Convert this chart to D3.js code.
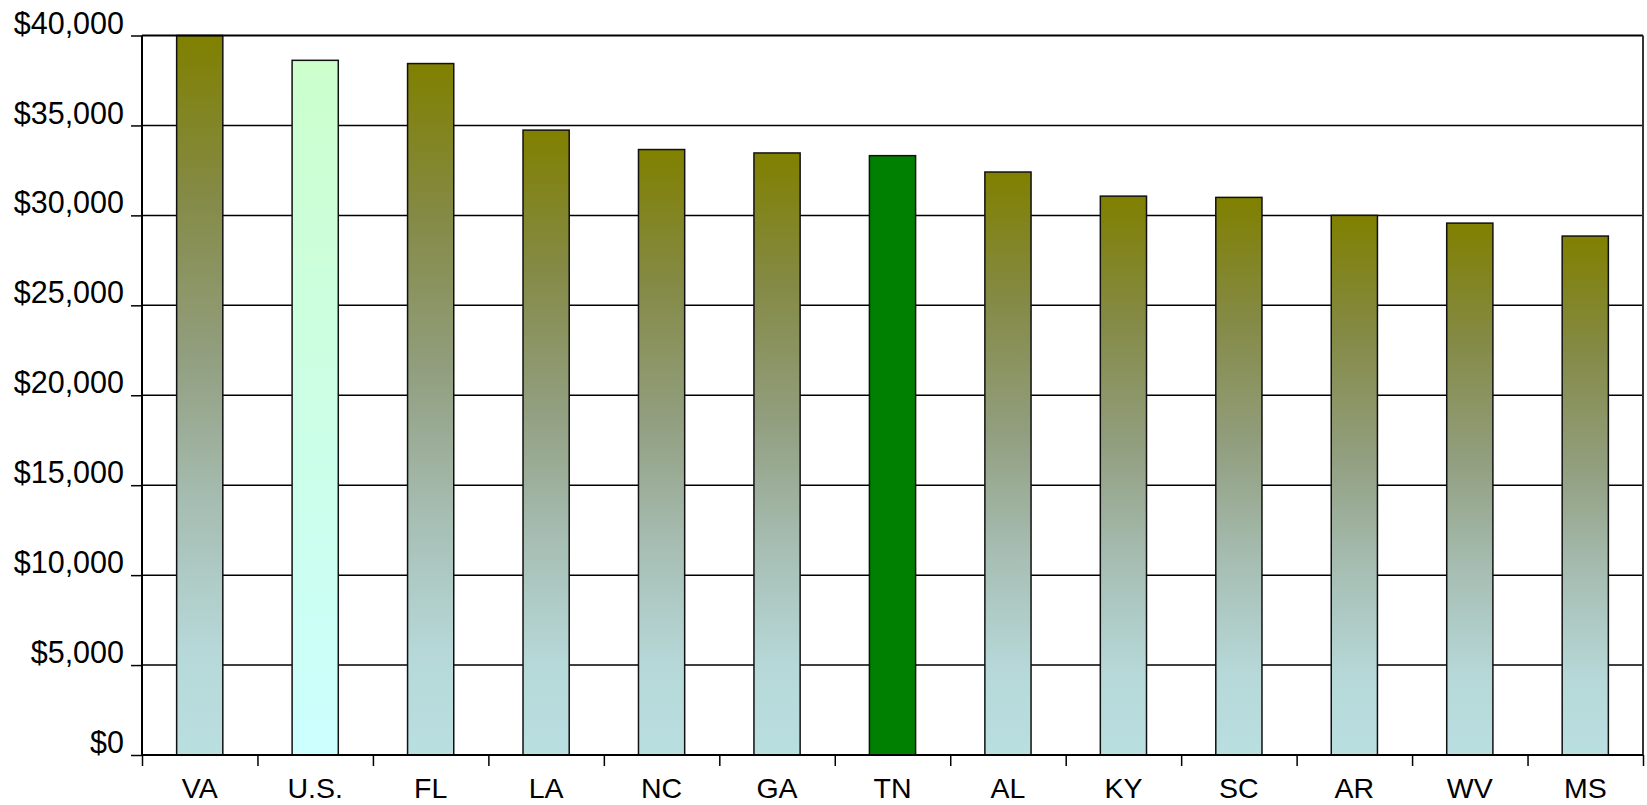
<!DOCTYPE html>
<html>
<head>
<meta charset="utf-8">
<script src="https://cdn.jsdelivr.net/npm/d3@7"></script>
<style>
  body { margin: 0; background: #fff; }
  svg { display: block; font-family: "Liberation Sans", Arial, sans-serif; }
</style>
</head>
<body>
<svg width="1647" height="805"></svg>
<script>
const width = 1647;
const height = 805;

const states = ["VA", "U.S.", "FL", "LA", "NC", "GA", "TN", "AL", "KY", "SC", "AR", "WV", "MS"];
const incomes = [40000, 38620, 38440, 34740, 33660, 33470, 33320, 32410, 31070, 31000, 30000, 29570, 28850];
const barKinds = ["state", "us", "state", "state", "state", "state", "tn", "state", "state", "state", "state", "state", "state"];
const yTicks = [0, 5000, 10000, 15000, 20000, 25000, 30000, 35000, 40000];

const margin = {top: 35.5, right: 4, bottom: 50, left: 142},
    plotWidth = width - margin.left - margin.right,
    plotHeight = height - margin.top - margin.bottom;

const svg = d3.select("svg");

// per-bar vertical gradients
const defs = svg.append("defs");
const gradients = {
    state: [["0%", "#808000"], ["22%", "#848a45"], ["45%", "#929f80"], ["65%", "#a6bdb2"], ["85%", "#b6d8d8"], ["100%", "#badfe1"]],
    us: [["0%", "#ccffcc"], ["100%", "#ccffff"]]
};
Object.entries(gradients).forEach(([id, stops]) => {
    const g = defs.append("linearGradient")
        .attr("id", "grad-" + id)
        .attr("x1", 0).attr("y1", 0)
        .attr("x2", 0).attr("y2", 1);
    stops.forEach(s => g.append("stop").attr("offset", s[0]).attr("stop-color", s[1]));
});
const fillFor = kind => kind === "tn" ? "#008000" : `url(#grad-${kind})`;

const chart = svg.append("g")
    .attr("transform", `translate(${margin.left},${margin.top})`);

const x = d3.scaleBand()
    .domain(states)
    .range([0, plotWidth])
    .padding(0);

const y = d3.scaleLinear()
    .domain([0, 40000])
    .range([plotHeight, 0]);

// gridlines
chart.append("g")
    .selectAll("line")
    .data(yTicks.filter(d => d > 0 && d < 40000))
    .join("line")
    .attr("x1", 0)
    .attr("x2", plotWidth)
    .attr("y1", d => y(d))
    .attr("y2", d => y(d))
    .attr("stroke", "#000")
    .attr("stroke-width", 1.5);

// bars
chart.append("g")
    .selectAll("rect")
    .data(states.map((s, i) => ({state: s, value: incomes[i], kind: barKinds[i]})))
    .join("rect")
    .attr("x", d => x(d.state) + x.bandwidth() * 0.3)
    .attr("y", d => y(d.value))
    .attr("width", x.bandwidth() * 0.4)
    .attr("height", d => plotHeight - y(d.value))
    .attr("fill", d => fillFor(d.kind))
    .attr("stroke", "#111")
    .attr("stroke-width", 1.5);

// top and right frame
chart.append("line")
    .attr("x1", 0).attr("x2", plotWidth)
    .attr("y1", 0).attr("y2", 0)
    .attr("stroke", "#000")
    .attr("stroke-width", 2);
chart.append("line")
    .attr("x1", plotWidth).attr("x2", plotWidth)
    .attr("y1", 0).attr("y2", plotHeight)
    .attr("stroke", "#333")
    .attr("stroke-width", 2);

// y axis
const yAxis = chart.append("g")
    .call(d3.axisLeft(y)
        .tickValues(yTicks)
        .tickSize(11)
        .tickPadding(7)
        .tickFormat(d => "$" + d3.format(",")(d)));
yAxis.select(".domain").attr("stroke-width", 2).attr("d", `M0,0V${plotHeight}`);
yAxis.selectAll(".tick line").attr("stroke-width", 1.5);
yAxis.selectAll("text")
    .attr("dy", "-0.08em")
    .attr("fill", "#000")
    .style("font-size", "30.5px")
    .style("font-family", "'Liberation Sans', Arial, sans-serif");

// x axis: boundary ticks
const xEdges = d3.scaleLinear().domain([0, states.length]).range([0, plotWidth]);
const xTickAxis = chart.append("g")
    .attr("transform", `translate(0,${plotHeight})`)
    .call(d3.axisBottom(xEdges).ticks(states.length).tickSize(11).tickFormat(""));
xTickAxis.select(".domain").attr("stroke-width", 2).attr("d", `M0,0H${plotWidth}`);
xTickAxis.selectAll(".tick line").attr("stroke-width", 1.5);

// x axis: labels
const xLabelAxis = chart.append("g")
    .attr("transform", `translate(0,${plotHeight})`)
    .call(d3.axisBottom(x).tickSize(0).tickPadding(23));
xLabelAxis.select(".domain").remove();
xLabelAxis.selectAll("text")
    .attr("fill", "#000")
    .style("font-size", "28.5px")
    .style("font-family", "'Liberation Sans', Arial, sans-serif");
</script>
</body>
</html>
